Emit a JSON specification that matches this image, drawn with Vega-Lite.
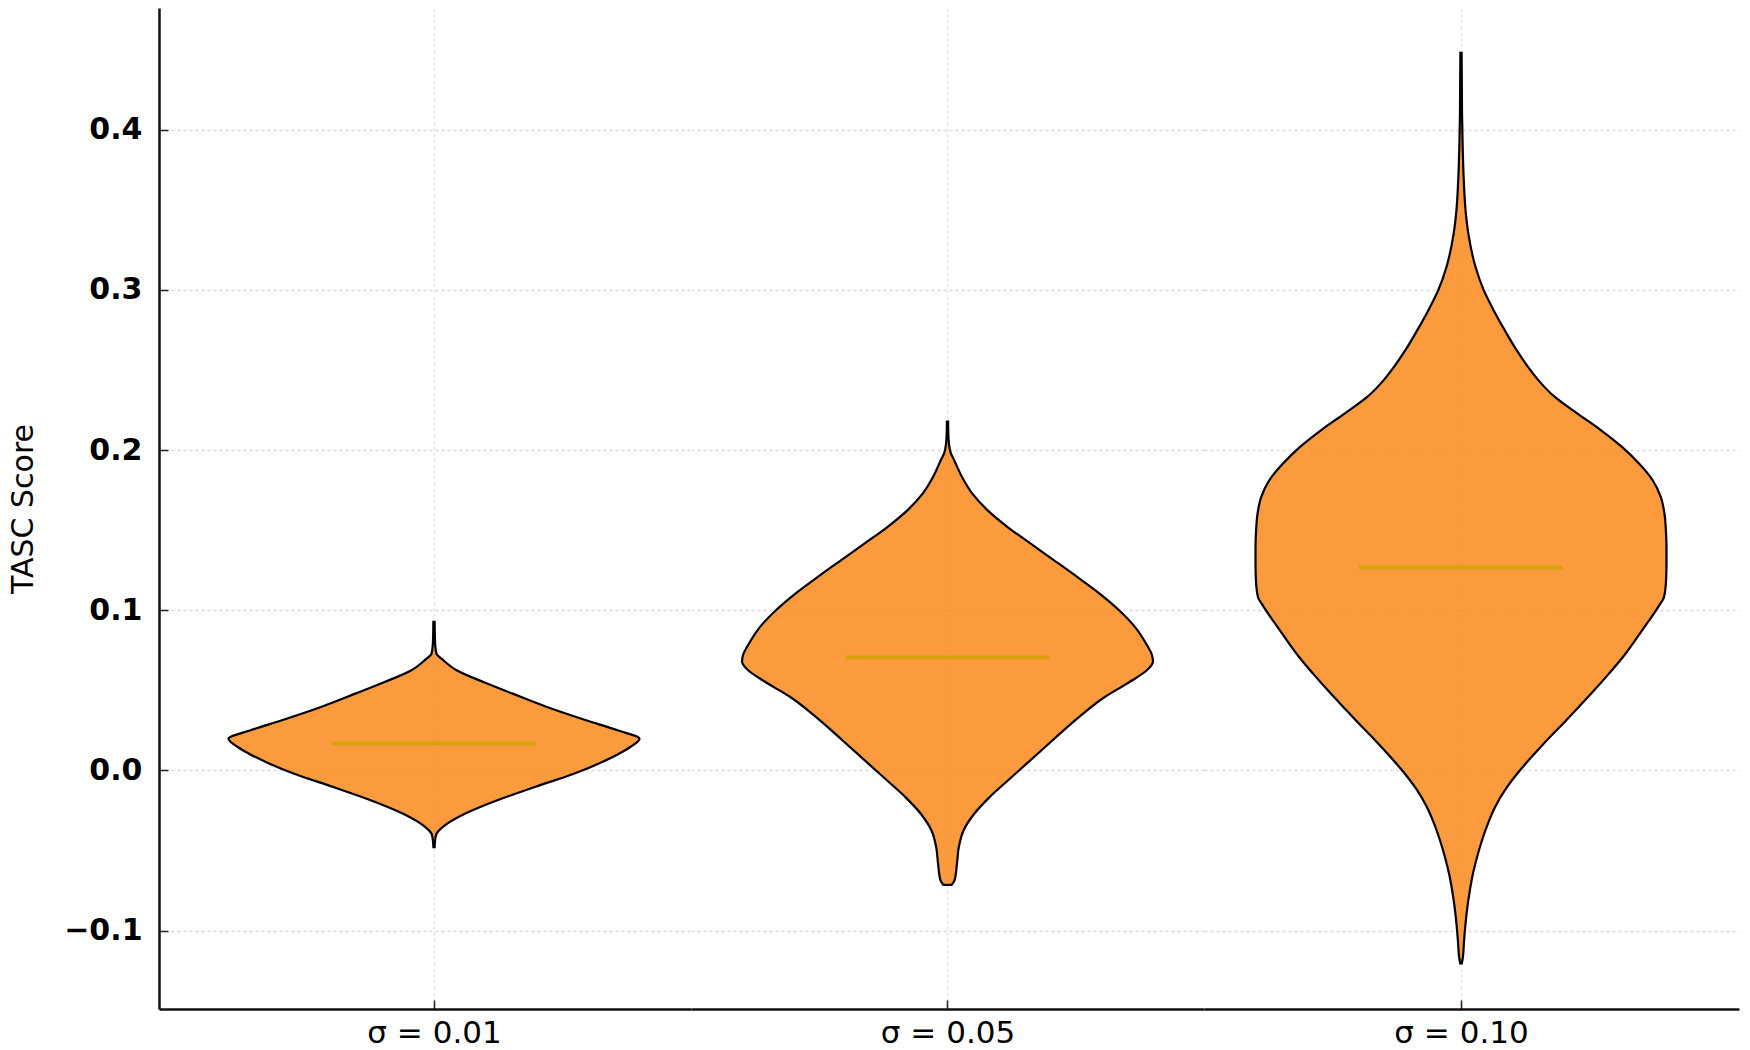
{
  "$schema": "https://vega.github.io/schema/vega-lite/v6.json",
  "background": "white",
  "padding": {"left": 8, "top": 8, "right": 10, "bottom": 0},
  "spacing": 0,
  "config": {
    "view": {"stroke": null},
    "axis": {"labelFlush": false}
  },
  "datasets": {
    "violins": [
      {"group": "σ = 0.01", "score": 0.0927, "density": 0.003},
      {"group": "σ = 0.01", "score": 0.085, "density": 0.004},
      {"group": "σ = 0.01", "score": 0.078, "density": 0.006},
      {"group": "σ = 0.01", "score": 0.0729, "density": 0.012},
      {"group": "σ = 0.01", "score": 0.0688, "density": 0.045},
      {"group": "σ = 0.01", "score": 0.0625, "density": 0.11},
      {"group": "σ = 0.01", "score": 0.055, "density": 0.243},
      {"group": "σ = 0.01", "score": 0.0479, "density": 0.383},
      {"group": "σ = 0.01", "score": 0.0396, "density": 0.55},
      {"group": "σ = 0.01", "score": 0.0313, "density": 0.74},
      {"group": "σ = 0.01", "score": 0.025, "density": 0.893},
      {"group": "σ = 0.01", "score": 0.0198, "density": 1.0},
      {"group": "σ = 0.01", "score": 0.0146, "density": 0.955},
      {"group": "σ = 0.01", "score": 0.0104, "density": 0.9},
      {"group": "σ = 0.01", "score": 0.0042, "density": 0.8},
      {"group": "σ = 0.01", "score": -0.0021, "density": 0.68},
      {"group": "σ = 0.01", "score": -0.0104, "density": 0.49},
      {"group": "σ = 0.01", "score": -0.0188, "density": 0.305},
      {"group": "σ = 0.01", "score": -0.0271, "density": 0.15},
      {"group": "σ = 0.01", "score": -0.0354, "density": 0.042},
      {"group": "σ = 0.01", "score": -0.0396, "density": 0.012},
      {"group": "σ = 0.01", "score": -0.044, "density": 0.005},
      {"group": "σ = 0.01", "score": -0.0479, "density": 0.003},

      {"group": "σ = 0.05", "score": 0.2177, "density": 0.003},
      {"group": "σ = 0.05", "score": 0.21, "density": 0.004},
      {"group": "σ = 0.05", "score": 0.2042, "density": 0.007},
      {"group": "σ = 0.05", "score": 0.198, "density": 0.016},
      {"group": "σ = 0.05", "score": 0.1938, "density": 0.032},
      {"group": "σ = 0.05", "score": 0.1833, "density": 0.07},
      {"group": "σ = 0.05", "score": 0.1729, "density": 0.12},
      {"group": "σ = 0.05", "score": 0.1625, "density": 0.194},
      {"group": "σ = 0.05", "score": 0.1521, "density": 0.291},
      {"group": "σ = 0.05", "score": 0.1417, "density": 0.403},
      {"group": "σ = 0.05", "score": 0.1313, "density": 0.517},
      {"group": "σ = 0.05", "score": 0.1208, "density": 0.631},
      {"group": "σ = 0.05", "score": 0.1104, "density": 0.74},
      {"group": "σ = 0.05", "score": 0.1, "density": 0.835},
      {"group": "σ = 0.05", "score": 0.0896, "density": 0.912},
      {"group": "σ = 0.05", "score": 0.0792, "density": 0.966},
      {"group": "σ = 0.05", "score": 0.072, "density": 0.995},
      {"group": "σ = 0.05", "score": 0.068, "density": 1.0},
      {"group": "σ = 0.05", "score": 0.0625, "density": 0.97},
      {"group": "σ = 0.05", "score": 0.0575, "density": 0.915},
      {"group": "σ = 0.05", "score": 0.052, "density": 0.845},
      {"group": "σ = 0.05", "score": 0.0458, "density": 0.765},
      {"group": "σ = 0.05", "score": 0.0354, "density": 0.66},
      {"group": "σ = 0.05", "score": 0.025, "density": 0.565},
      {"group": "σ = 0.05", "score": 0.0146, "density": 0.475},
      {"group": "σ = 0.05", "score": 0.0042, "density": 0.385},
      {"group": "σ = 0.05", "score": -0.0062, "density": 0.295},
      {"group": "σ = 0.05", "score": -0.0167, "density": 0.205},
      {"group": "σ = 0.05", "score": -0.0271, "density": 0.13},
      {"group": "σ = 0.05", "score": -0.0375, "density": 0.078},
      {"group": "σ = 0.05", "score": -0.0479, "density": 0.055},
      {"group": "σ = 0.05", "score": -0.0583, "density": 0.046},
      {"group": "σ = 0.05", "score": -0.0688, "density": 0.034},
      {"group": "σ = 0.05", "score": -0.0715, "density": 0.02},

      {"group": "σ = 0.10", "score": 0.448, "density": 0.003},
      {"group": "σ = 0.10", "score": 0.43, "density": 0.004},
      {"group": "σ = 0.10", "score": 0.41, "density": 0.005},
      {"group": "σ = 0.10", "score": 0.39, "density": 0.008},
      {"group": "σ = 0.10", "score": 0.37, "density": 0.013},
      {"group": "σ = 0.10", "score": 0.35, "density": 0.022},
      {"group": "σ = 0.10", "score": 0.335, "density": 0.036},
      {"group": "σ = 0.10", "score": 0.3146, "density": 0.07},
      {"group": "σ = 0.10", "score": 0.3, "density": 0.11},
      {"group": "σ = 0.10", "score": 0.2875, "density": 0.158},
      {"group": "σ = 0.10", "score": 0.275, "density": 0.212},
      {"group": "σ = 0.10", "score": 0.2625, "density": 0.27},
      {"group": "σ = 0.10", "score": 0.2521, "density": 0.325},
      {"group": "σ = 0.10", "score": 0.2438, "density": 0.375},
      {"group": "σ = 0.10", "score": 0.2333, "density": 0.455},
      {"group": "σ = 0.10", "score": 0.2229, "density": 0.565},
      {"group": "σ = 0.10", "score": 0.2125, "density": 0.68},
      {"group": "σ = 0.10", "score": 0.2021, "density": 0.782},
      {"group": "σ = 0.10", "score": 0.1917, "density": 0.865},
      {"group": "σ = 0.10", "score": 0.1813, "density": 0.932},
      {"group": "σ = 0.10", "score": 0.1708, "density": 0.972},
      {"group": "σ = 0.10", "score": 0.1604, "density": 0.99},
      {"group": "σ = 0.10", "score": 0.15, "density": 0.997},
      {"group": "σ = 0.10", "score": 0.1396, "density": 1.0},
      {"group": "σ = 0.10", "score": 0.1292, "density": 1.0},
      {"group": "σ = 0.10", "score": 0.1188, "density": 0.998},
      {"group": "σ = 0.10", "score": 0.1083, "density": 0.988},
      {"group": "σ = 0.10", "score": 0.1021, "density": 0.96},
      {"group": "σ = 0.10", "score": 0.0917, "density": 0.905},
      {"group": "σ = 0.10", "score": 0.0813, "density": 0.848},
      {"group": "σ = 0.10", "score": 0.0708, "density": 0.788},
      {"group": "σ = 0.10", "score": 0.0604, "density": 0.72},
      {"group": "σ = 0.10", "score": 0.05, "density": 0.648},
      {"group": "σ = 0.10", "score": 0.0396, "density": 0.573},
      {"group": "σ = 0.10", "score": 0.0292, "density": 0.497},
      {"group": "σ = 0.10", "score": 0.0188, "density": 0.418},
      {"group": "σ = 0.10", "score": 0.0083, "density": 0.343},
      {"group": "σ = 0.10", "score": -0.0021, "density": 0.273},
      {"group": "σ = 0.10", "score": -0.0125, "density": 0.213},
      {"group": "σ = 0.10", "score": -0.0229, "density": 0.166},
      {"group": "σ = 0.10", "score": -0.0333, "density": 0.131},
      {"group": "σ = 0.10", "score": -0.0438, "density": 0.102},
      {"group": "σ = 0.10", "score": -0.0542, "density": 0.078},
      {"group": "σ = 0.10", "score": -0.0646, "density": 0.058},
      {"group": "σ = 0.10", "score": -0.075, "density": 0.043},
      {"group": "σ = 0.10", "score": -0.0854, "density": 0.031},
      {"group": "σ = 0.10", "score": -0.0958, "density": 0.022},
      {"group": "σ = 0.10", "score": -0.1063, "density": 0.015},
      {"group": "σ = 0.10", "score": -0.1167, "density": 0.009},
      {"group": "σ = 0.10", "score": -0.1206, "density": 0.004}
    ],
    "medians": [
      {"group": "σ = 0.01", "median": 0.0168},
      {"group": "σ = 0.05", "median": 0.0704},
      {"group": "σ = 0.10", "median": 0.1267}
    ]
  },
  "hconcat": [
    {
      "width": 532,
      "height": 1001,
      "layer": [
        {
          "data": {"name": "violins"},
          "transform": [{"filter": {"field": "group", "equal": "σ = 0.01"}}],
          "mark": {"type": "area", "orient": "horizontal", "interpolate": "monotone", "fill": "#FB8A1C", "fillOpacity": 0.85, "stroke": "#000000", "strokeWidth": 2.2},
          "encoding": {
            "y": {"field": "score", "type": "quantitative",
              "scale": {"domain": [-0.149, 0.476], "nice": false, "zero": false},
              "axis": {"values": [-0.1, 0, 0.1, 0.2, 0.3, 0.4], "format": ".1f", "title": "TASC Score",
                "titleFont": "DejaVu Sans", "titleFontSize": 30, "titleFontWeight": "normal", "titleColor": "#000000", "titlePadding": 25,
                "labelFont": "DejaVu Sans", "labelFontSize": 30, "labelFontWeight": "bold", "labelColor": "#000000", "labelPadding": 26,
                "ticks": true, "tickSize": -9, "tickWidth": 1.5, "tickColor": "#222222",
                "domain": true, "domainColor": "#111111", "domainWidth": 2.5,
                "grid": true, "gridColor": "#d9d9d9", "gridDash": [3, 3], "gridWidth": 1.5}},
            "x": {"field": "density", "type": "quantitative", "stack": "center",
              "scale": {"domain": [-0.1691, 1.1253], "nice": false, "zero": false},
              "axis": {"values": [0.5], "labelExpr": "'σ = 0.01'", "title": null,
                "labelFont": "DejaVu Sans", "labelFontSize": 31, "labelColor": "#000000", "labelPadding": 18,
                "ticks": true, "tickSize": -9, "tickWidth": 1.5, "tickColor": "#222222",
                "domain": true, "domainColor": "#111111", "domainWidth": 2.5,
                "grid": true, "gridColor": "#e3e3e3", "gridDash": [3, 3], "gridWidth": 1.5}}
          }
        },
        {
          "data": {"name": "medians"},
          "transform": [{"filter": {"field": "group", "equal": "σ = 0.01"}}],
          "mark": {"type": "tick", "orient": "horizontal", "size": 204, "thickness": 4, "color": "#D9A00A", "opacity": 1},
          "encoding": {
            "y": {"field": "median", "type": "quantitative"},
            "x": {"datum": 0.5}
          }
        }
      ]
    },
    {
      "width": 513,
      "height": 1001,
      "layer": [
        {
          "data": {"name": "violins"},
          "transform": [{"filter": {"field": "group", "equal": "σ = 0.05"}}],
          "mark": {"type": "area", "orient": "horizontal", "interpolate": "monotone", "fill": "#FB8A1C", "fillOpacity": 0.85, "stroke": "#000000", "strokeWidth": 2.2},
          "encoding": {
            "y": {"field": "score", "type": "quantitative",
              "scale": {"domain": [-0.149, 0.476], "nice": false, "zero": false},
              "axis": {"values": [-0.1, 0, 0.1, 0.2, 0.3, 0.4], "title": null, "labels": false, "ticks": false, "domain": false,
                "grid": true, "gridColor": "#d9d9d9", "gridDash": [3, 3], "gridWidth": 1.5}},
            "x": {"field": "density", "type": "quantitative", "stack": "center",
              "scale": {"domain": [-0.1241, 1.1241], "nice": false, "zero": false},
              "axis": {"values": [0.5], "labelExpr": "'σ = 0.05'", "title": null,
                "labelFont": "DejaVu Sans", "labelFontSize": 31, "labelColor": "#000000", "labelPadding": 18,
                "ticks": true, "tickSize": -9, "tickWidth": 1.5, "tickColor": "#222222",
                "domain": true, "domainColor": "#111111", "domainWidth": 2.5,
                "grid": true, "gridColor": "#e3e3e3", "gridDash": [3, 3], "gridWidth": 1.5}}
          }
        },
        {
          "data": {"name": "medians"},
          "transform": [{"filter": {"field": "group", "equal": "σ = 0.05"}}],
          "mark": {"type": "tick", "orient": "horizontal", "size": 204, "thickness": 4, "color": "#D9A00A", "opacity": 1},
          "encoding": {
            "y": {"field": "median", "type": "quantitative"},
            "x": {"datum": 0.5}
          }
        }
      ]
    },
    {
      "width": 535,
      "height": 1001,
      "layer": [
        {
          "data": {"name": "violins"},
          "transform": [{"filter": {"field": "group", "equal": "σ = 0.10"}}],
          "mark": {"type": "area", "orient": "horizontal", "interpolate": "monotone", "fill": "#FB8A1C", "fillOpacity": 0.85, "stroke": "#000000", "strokeWidth": 2.2},
          "encoding": {
            "y": {"field": "score", "type": "quantitative",
              "scale": {"domain": [-0.149, 0.476], "nice": false, "zero": false},
              "axis": {"values": [-0.1, 0, 0.1, 0.2, 0.3, 0.4], "title": null, "labels": false, "ticks": false, "domain": false,
                "grid": true, "gridColor": "#d9d9d9", "gridDash": [3, 3], "gridWidth": 1.5}},
            "x": {"field": "density", "type": "quantitative", "stack": "center",
              "scale": {"domain": [-0.1253, 1.1764], "nice": false, "zero": false},
              "axis": {"values": [0.5], "labelExpr": "'σ = 0.10'", "title": null,
                "labelFont": "DejaVu Sans", "labelFontSize": 31, "labelColor": "#000000", "labelPadding": 18,
                "ticks": true, "tickSize": -9, "tickWidth": 1.5, "tickColor": "#222222",
                "domain": true, "domainColor": "#111111", "domainWidth": 2.5,
                "grid": true, "gridColor": "#e3e3e3", "gridDash": [3, 3], "gridWidth": 1.5}}
          }
        },
        {
          "data": {"name": "medians"},
          "transform": [{"filter": {"field": "group", "equal": "σ = 0.10"}}],
          "mark": {"type": "tick", "orient": "horizontal", "size": 204, "thickness": 4, "color": "#D9A00A", "opacity": 1},
          "encoding": {
            "y": {"field": "median", "type": "quantitative"},
            "x": {"datum": 0.5}
          }
        }
      ]
    }
  ]
}
